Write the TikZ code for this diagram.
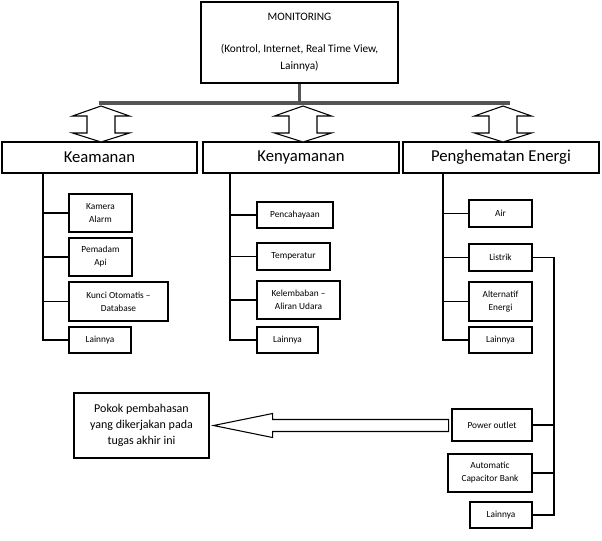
\documentclass[tikz,border=0pt]{standalone}
\usepackage{fontspec}
\setmainfont{Carlito}
\definecolor{darkgrey}{RGB}{85,85,85}
\tikzset{
  box/.style={draw, line width=0.8pt, align=center, inner sep=1pt},
  boxsize/.style 2 args={minimum width=#1*0.75pt, minimum height=#2*0.75pt},
  bigtext/.style={font=\fontsize{12.5}{15}\selectfont},
  midtext/.style={font=\fontsize{8.5}{12.75}\selectfont},
  pokoktext/.style={font=\fontsize{9}{12}\selectfont},
  smalltext/.style={font=\fontsize{7}{9.75}\selectfont},
  conn/.style={line width=0.8pt},
  hollow/.style={draw, line width=0.8pt, fill=white, line join=miter},
  barline/.style={line width=2.6pt, draw=darkgrey}
}

\begin{document}
\begin{tikzpicture}[x=0.75pt,y=0.75pt,yscale=-1,xscale=1]
    \useasboundingbox (0,0) rectangle (602,540);

    % Top box
    \node[box, midtext, boxsize={197}{81}] (monitor) at (299.5,42.5) {MONITORING\\[11pt](Kontrol, Internet, Real Time View,\\Lainnya)};
    % Bar
    \coordinate (barl) at (99,103);
    \coordinate (barr) at (510,103);
    \draw[barline] (monitor.south) -- (monitor.south |- barl);
    \draw[barline] (barl) -- (barr);

    % Main boxes
    \node[box, bigtext, boxsize={195}{31}] (keamanan) at (99.5,157.5) {Keamanan};
    \node[box, bigtext, boxsize={196}{31}] (kenyamanan) at (301,157.5) {Kenyamanan};
    \node[box, bigtext, boxsize={196}{31}] (hemat) at (501,157.5) {Penghematan Energi};

    % Double arrows
    \foreach \cx in {101,303,503}
      \draw[hollow] (\cx,106) -- (\cx+28.5,116) -- (\cx+14,116) -- (\cx+14,133) -- (\cx+28.5,133) -- (\cx,142)
        -- (\cx-28.5,133) -- (\cx-14,133) -- (\cx-14,116) -- (\cx-28.5,116) -- cycle;

    % Keamanan items
    \node[box, smalltext, boxsize={63}{38}] (kamera) at (100.5,213) {Kamera\\Alarm};
    \node[box, smalltext, boxsize={63}{38}] (pemadam) at (100.5,257) {Pemadam\\Api};
    \node[box, smalltext, boxsize={99}{39}] (kunci) at (118.5,301.5) {Kunci Otomatis --\\Database};
    \node[box, smalltext, boxsize={62}{26}] (lainA) at (100,340) {Lainnya};

    % Kenyamanan items
    \node[box, smalltext, boxsize={76}{26}] (cahaya) at (295,215) {Pencahayaan};
    \node[box, smalltext, boxsize={73}{27}] (suhu) at (293.5,256.5) {Temperatur};
    \node[box, smalltext, boxsize={83}{38}] (lembab) at (298.5,300) {Kelembaban --\\Aliran Udara};
    \node[box, smalltext, boxsize={61}{26}] (lainB) at (287.5,340) {Lainnya};

    % Penghematan items
    \node[box, smalltext, boxsize={63}{27}] (air) at (500.5,213.5) {Air};
    \node[box, smalltext, boxsize={63}{27}] (listrik) at (500.5,257.5) {Listrik};
    \node[box, smalltext, boxsize={63}{39}] (alter) at (500.5,301.5) {Alternatif\\Energi};
    \node[box, smalltext, boxsize={63}{26}] (lainC) at (500.5,340) {Lainnya};

    % Listrik items
    \node[box, smalltext, boxsize={80}{32}] (power) at (492,425) {Power outlet};
    \node[box, smalltext, boxsize={84}{38}] (acb) at (490,473) {Automatic\\Capacitor Bank};
    \node[box, smalltext, boxsize={62}{26}] (lainD) at (501,515) {Lainnya};

    % Pokok box
    \node[box, pokoktext, boxsize={135}{65}] (pokok) at (141.5,425.5) {Pokok pembahasan\\yang dikerjakan pada\\tugas akhir ini};

    % Connection
    \coordinate (ka) at (43,0);
    \coordinate (ke) at (230,0);
    \coordinate (pe) at (443,0);
    \coordinate (li) at (554,0);
    \draw[conn] (keamanan.south -| ka) |- (lainA.west);
    \foreach \n in {kamera,pemadam,kunci}
      \draw[conn] (ka |- \n.west) -- (\n.west);
    \draw[conn] (kenyamanan.south -| ke) |- (lainB.west);
    \foreach \n in {cahaya,suhu,lembab}
      \draw[conn] (ke |- \n.west) -- (\n.west);
    \draw[conn] (hemat.south -| pe) |- (lainC.west);
    \foreach \n in {air,listrik,alter}
      \draw[conn] (pe |- \n.west) -- (\n.west);
    \draw[conn] (listrik.east) -| (li |- lainD.east) -- (lainD.east);
    \foreach \n in {power,acb}
      \draw[conn] (\n.east) -- (li |- \n.east);

    % Big arrow
    \draw[hollow, shift={(pokok.east)}] (4,0) -- (63,-12) -- (63,-6) -- (239,-6) -- (239,6) -- (63,6) -- (63,12) -- cycle;

\end{tikzpicture}
\end{document}
